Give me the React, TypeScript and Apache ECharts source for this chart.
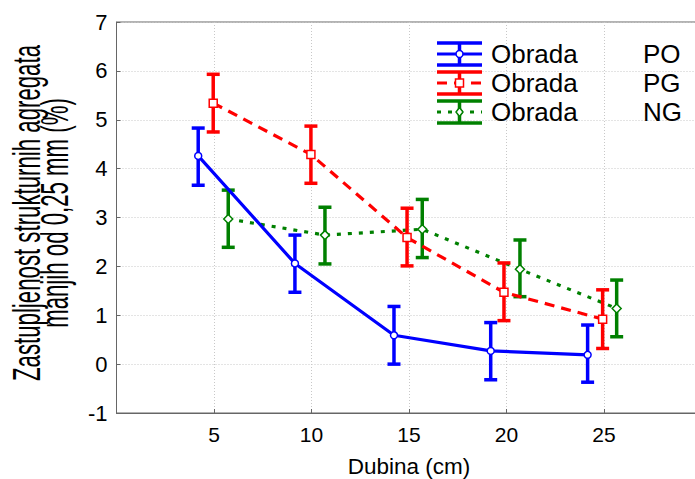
import React, { useEffect, useRef } from "react";
import * as echarts from "echarts";

// ---- data ----
const seriesNames = ["PO", "PG", "NG"];
const legendPrefix = "Obrada";
const xTickLabels = ["5", "10", "15", "20", "25"];
const yTickLabels = ["-1", "0", "1", "2", "3", "4", "5", "6", "7"];
const xAxisName = "Dubina (cm)";
const yAxisName1 = "Zastupljenost strukturnih agregata";
const yAxisName2 = "manjih od 0,25 mm (%)";

const depthPO = [4.19, 9.15, 14.23, 19.19, 24.16];
const meanPO = [4.26, 2.06, 0.59, 0.27, 0.19];
const lowPO = [3.66, 1.47, 0.0, -0.32, -0.37];
const highPO = [4.83, 2.64, 1.18, 0.85, 0.8];

const depthPG = [4.96, 9.97, 14.9, 19.87, 24.93];
const meanPG = [5.34, 4.29, 2.59, 1.47, 0.92];
const lowPG = [4.75, 3.7, 2.01, 0.89, 0.32];
const highPG = [5.93, 4.87, 3.19, 2.07, 1.52];

const depthNG = [5.73, 10.69, 15.68, 20.69, 25.65];
const meanNG = [2.97, 2.64, 2.76, 1.94, 1.14];
const lowNG = [2.39, 2.05, 2.18, 1.38, 0.56];
const highNG = [3.56, 3.21, 3.37, 2.54, 1.72];

const COLORS = ["#0000ff", "#ff0000", "#008000"];
const FONT = "'Liberation Sans', Arial, sans-serif";

export default function App() {
  const ref = useRef<HTMLDivElement>(null);
  useEffect(() => {
    if (!ref.current) return;
    const chart = echarts.init(ref.current, null, { renderer: "svg" });

    const groups = [
      { d: depthPO, m: meanPO, lo: lowPO, hi: highPO, sym: "circle", size: 7, dash: "solid" as any, z: 6 },
      { d: depthPG, m: meanPG, lo: lowPG, hi: highPG, sym: "rect", size: 8, dash: [10, 7], z: 5 },
      { d: depthNG, m: meanNG, lo: lowNG, hi: highNG, sym: "diamond", size: 9, dash: [4, 7], z: 4 },
    ];

    const series: any[] = [];
    groups.forEach((g, i) => {
      const color = COLORS[i];
      series.push({
        type: "custom",
        name: seriesNames[i] + "_err",
        z: g.z,
        data: g.d.map((x, k) => [x, g.lo[k], g.hi[k]]),
        encode: { x: 0, y: [1, 2] },
        renderItem: (params: any, api: any) => {
          const x = api.value(0);
          const pLo = api.coord([x, api.value(1)]);
          const pHi = api.coord([x, api.value(2)]);
          const hw = 6.5;
          const st = { stroke: color, lineWidth: 3.5 };
          return {
            type: "group",
            children: [
              { type: "line", shape: { x1: pLo[0], y1: pLo[1], x2: pHi[0], y2: pHi[1] }, style: st },
              { type: "line", shape: { x1: pHi[0] - hw, y1: pHi[1], x2: pHi[0] + hw, y2: pHi[1] }, style: st },
              { type: "line", shape: { x1: pLo[0] - hw, y1: pLo[1], x2: pLo[0] + hw, y2: pLo[1] }, style: st },
            ],
          };
        },
      });
      series.push({
        type: "line",
        name: seriesNames[i],
        z: g.z + 0.5,
        data: g.d.map((x, k) => [x, g.m[k]]),
        symbol: g.sym,
        symbolSize: g.size,
        showSymbol: true,
        itemStyle: { color: "#ffffff", borderColor: color, borderWidth: 1.5 },
        lineStyle: { color, width: 3.2, type: g.dash },
      });
    });

    // legend graphic
    const graphic: any[] = [];
    const lx0 = 437, lx1 = 482, lxc = 459.5;
    seriesNames.forEach((name, i) => {
      const c = 54 + 29 * i;
      const color = COLORS[i];
      const st = { stroke: color, lineWidth: 3.5 };
      graphic.push({ type: "line", shape: { x1: lx0, y1: c - 11, x2: lx1, y2: c - 11 }, style: st, z: 100 });
      graphic.push({ type: "line", shape: { x1: lx0, y1: c + 11, x2: lx1, y2: c + 11 }, style: st, z: 100 });
      graphic.push({ type: "line", shape: { x1: lxc, y1: c - 11, x2: lxc, y2: c + 11 }, style: st, z: 100 });
      graphic.push({
        type: "line",
        shape: { x1: lx0, y1: c, x2: lx1, y2: c },
        style: { stroke: color, lineWidth: 3.2, lineDash: i === 0 ? null : groups[i].dash },
        z: 100,
      });
      if (i === 0) {
        graphic.push({ type: "circle", shape: { cx: lxc, cy: c, r: 3.5 }, style: { fill: "#fff", stroke: color, lineWidth: 1.5 }, z: 101 });
      } else if (i === 1) {
        graphic.push({ type: "rect", shape: { x: lxc - 4, y: c - 4, width: 8, height: 8 }, style: { fill: "#fff", stroke: color, lineWidth: 1.5 }, z: 101 });
      } else {
        graphic.push({
          type: "polygon",
          shape: { points: [[lxc, c - 4.5], [lxc + 3.5, c], [lxc, c + 4.5], [lxc - 3.5, c]] },
          style: { fill: "#fff", stroke: color, lineWidth: 1.5 },
          z: 101,
        });
      }
      graphic.push({
        type: "text", x: 491, y: c, z: 100,
        style: { text: legendPrefix, fontSize: 26, fontFamily: FONT, fill: "#000", verticalAlign: "middle", align: "left" },
      });
      graphic.push({
        type: "text", x: 643, y: c, z: 100,
        style: { text: name, fontSize: 26, fontFamily: FONT, fill: "#000", verticalAlign: "middle", align: "left" },
      });
    });
    // y-axis title
    graphic.push({
      type: "text", x: 26.5, y: 213, rotation: Math.PI / 2, scaleX: 0.57, z: 100,
      style: { text: yAxisName1, fontSize: 39, fontFamily: FONT, fill: "#000", align: "center", verticalAlign: "middle" },
    });
    graphic.push({
      type: "text", x: 54.5, y: 213, rotation: Math.PI / 2, scaleX: 0.57, z: 100,
      style: { text: yAxisName2, fontSize: 39, fontFamily: FONT, fill: "#000", align: "center", verticalAlign: "middle" },
    });

    chart.setOption({
      animation: false,
      backgroundColor: "#ffffff",
      grid: {
        left: 116.5, top: 22, width: 585, height: 391,
        show: true, borderColor: "#666", borderWidth: 1,
        containLabel: false, outerBoundsMode: "none",
      },
      xAxis: {
        type: "value",
        min: 0,
        max: 30,
        interval: 5,
        name: xAxisName,
        nameLocation: "middle",
        nameGap: 42,
        nameTextStyle: { fontSize: 22.5, fontFamily: FONT, color: "#000" },
        axisLine: { show: true, onZero: false, lineStyle: { color: "#666", width: 1 } },
        axisTick: { show: true, inside: true, length: 4, lineStyle: { color: "#666" } },
        axisLabel: {
          fontSize: 21, fontFamily: FONT, color: "#000", margin: 11,
          formatter: (v: number) => (xTickLabels.includes(String(v)) ? String(v) : ""),
        },
        splitLine: { show: true, lineStyle: { color: "#c8c8c8", type: [1, 2], width: 1 } },
      },
      yAxis: {
        type: "value",
        min: -1,
        max: 7,
        interval: 1,
        axisLine: { show: true, onZero: false, lineStyle: { color: "#666", width: 1 } },
        axisTick: { show: true, inside: true, length: 4, lineStyle: { color: "#666" } },
        axisLabel: {
          fontSize: 22, fontFamily: FONT, color: "#000", margin: 9,
          formatter: (v: number) => (yTickLabels.includes(String(v)) ? String(v) : ""),
        },
        splitLine: { show: true, lineStyle: { color: "#c8c8c8", type: [1, 2], width: 1 } },
      },
      graphic,
      series,
    });
    return () => chart.dispose();
  }, []);
  return <div ref={ref} style={{ position: "fixed", left: 0, top: 0, width: 695, height: 479 }} />;
}
